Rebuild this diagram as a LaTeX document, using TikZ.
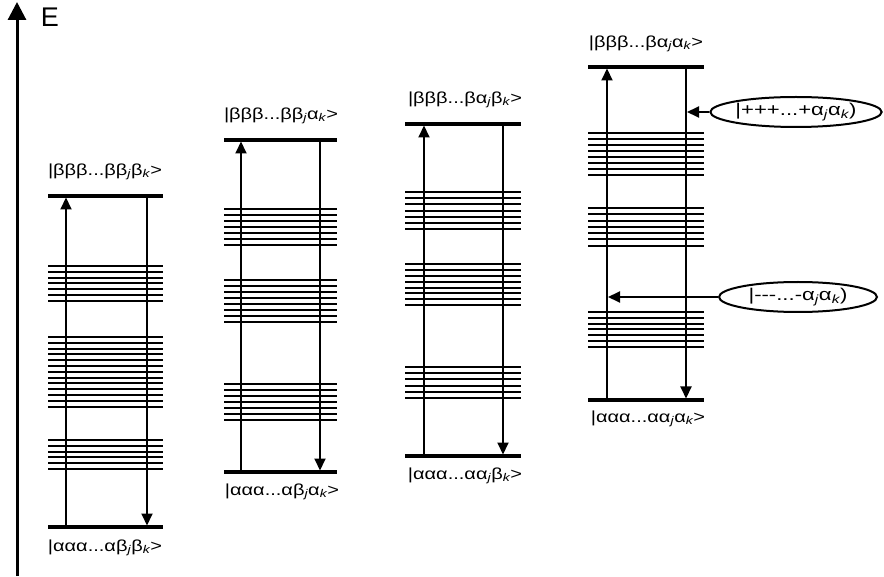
\documentclass[tikz,border=0pt]{standalone}
\usepackage{fontspec}
\setmainfont{Liberation Sans}
\usetikzlibrary{arrows.meta,shapes.geometric}
\newcommand\mybands[5]{%
  \foreach \k in {1,...,#5}{\draw[band] (#1,{#3+(\k-1)*#4}) -- (#2,{#3+(\k-1)*#4});}}
\newcommand\sj{\textsubscript{\itshape j}}
\newcommand\sk{\textsubscript{\itshape k}}
\newcommand\wlbl[1]{\scalebox{1.25}[1]{#1}}
\newcommand\welb[1]{\scalebox{1.3}[1]{#1}}
\begin{document}
\begin{tikzpicture}[x=1pt,y=-1pt,
  level/.style={line width=3.2pt},
  band/.style={line width=2pt},
  arr/.style={line width=2pt,-{Triangle[length=12pt,width=11pt]}},
  lbl/.style={font=\fontsize{16}{18}\selectfont, inner sep=0pt},
  elab/.style={draw, ellipse, line width=2pt, minimum width=158pt, minimum height=30pt, inner sep=0pt, font=\fontsize{17}{19}\selectfont}]
\useasboundingbox (0,0) rectangle (884,577);
% axis
\coordinate (ax0) at (17,576);
\coordinate (ax1) at (17,2);
\draw[line width=3pt,-{Triangle[length=18pt,width=18pt]}] (ax0) -- (ax1);
\node[font=\fontsize{27}{29}\selectfont, inner sep=0pt] (E) at (50,17) {E};

% ---- diagram 1
\mybands{48}{163}{266}{5.8}{7}
\mybands{48}{163}{337}{5.8}{13}
\mybands{48}{163}{440}{5.8}{6}
\coordinate (t1L) at (48,196); \coordinate (t1R) at (163,196);
\coordinate (b1L) at (48,527); \coordinate (b1R) at (163,527);
\draw[level] (t1L) -- (t1R);
\draw[level] (b1L) -- (b1R);
\coordinate (u1a) at (66,527); \coordinate (u1b) at (66,197.5);
\coordinate (d1a) at (147,196); \coordinate (d1b) at (147,525.5);
\draw[arr] (u1a) -- (u1b);
\draw[arr] (d1a) -- (d1b);
\node[lbl] (lt1) at (105,172) {\wlbl{|βββ...ββ\sj β\sk>}};
\node[lbl] (lb1) at (105,548) {\wlbl{|ααα...αβ\sj β\sk>}};

% ---- diagram 2
\mybands{224}{337}{209}{6}{7}
\mybands{224}{337}{280}{6}{8}
\mybands{224}{337}{384}{6}{7}
\coordinate (t2L) at (224,140); \coordinate (t2R) at (337,140);
\coordinate (b2L) at (224,472); \coordinate (b2R) at (337,472);
\draw[level] (t2L) -- (t2R);
\draw[level] (b2L) -- (b2R);
\coordinate (u2a) at (241,472); \coordinate (u2b) at (241,141.5);
\coordinate (d2a) at (320,140); \coordinate (d2b) at (320,470.5);
\draw[arr] (u2a) -- (u2b);
\draw[arr] (d2a) -- (d2b);
\node[lbl] (lt2) at (281,116) {\wlbl{|βββ...ββ\sj α\sk>}};
\node[lbl] (lb2) at (282,492) {\wlbl{|ααα...αβ\sj α\sk>}};

% ---- diagram 3
\mybands{405}{521}{192}{6.2}{7}
\mybands{405}{521}{264}{5.9}{8}
\mybands{405}{521}{367}{6.2}{6}
\coordinate (t3L) at (405,124); \coordinate (t3R) at (521,124);
\coordinate (b3L) at (405,456); \coordinate (b3R) at (521,456);
\draw[level] (t3L) -- (t3R);
\draw[level] (b3L) -- (b3R);
\coordinate (u3a) at (424,456); \coordinate (u3b) at (424,125.5);
\coordinate (d3a) at (503,124); \coordinate (d3b) at (503,454.5);
\draw[arr] (u3a) -- (u3b);
\draw[arr] (d3a) -- (d3b);
\node[lbl] (lt3) at (465,100) {\wlbl{|βββ...βα\sj β\sk>}};
\node[lbl] (lb3) at (465,476) {\wlbl{|ααα...αα\sj β\sk>}};

% ---- diagram 4
\mybands{588}{704}{133}{6}{8}
\mybands{588}{704}{208}{6.3}{7}
\mybands{588}{704}{312}{5.8}{7}
\coordinate (t4L) at (588,67); \coordinate (t4R) at (704,67);
\coordinate (b4L) at (588,400); \coordinate (b4R) at (704,400);
\draw[level] (t4L) -- (t4R);
\draw[level] (b4L) -- (b4R);
\coordinate (u4a) at (607,400); \coordinate (u4b) at (607,68.5);
\coordinate (d4a) at (686,67); \coordinate (d4b) at (686,398.5);
\draw[arr] (u4a) -- (u4b);
\draw[arr] (d4a) -- (d4b);
\node[lbl] (lt4) at (646,44) {\wlbl{|βββ...βα\sj α\sk>}};
\node[lbl] (lb4) at (648,419) {\wlbl{|ααα...αα\sj α\sk>}};

% ellipses
\node[elab] (e1) at (796,112) {\welb{|+++...+α\sj α\sk)}};
\node[elab] (e2) at (798,297) {\welb{|-{}-{}-...-α\sj α\sk)}};
\coordinate (e1t) at (687,112);
\coordinate (e2t) at (608,297);
\draw[arr] (e1) -- (e1t);
\draw[arr] (e2) -- (e2t);
\end{tikzpicture}
\end{document}
